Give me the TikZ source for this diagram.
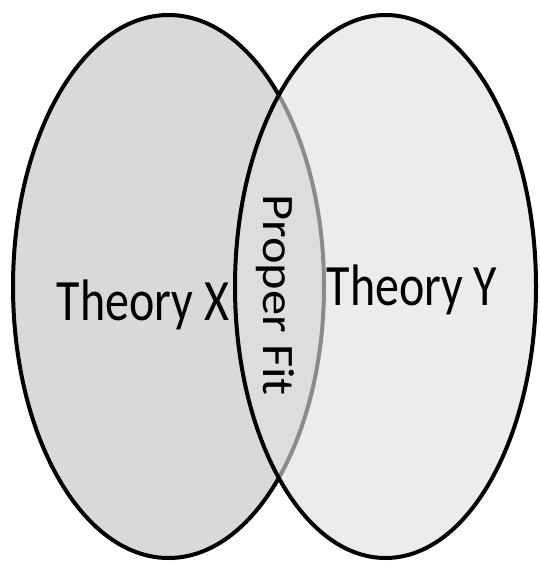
\documentclass[tikz,border=0pt]{standalone}
\usepackage{fontspec}
\setmainfont{Carlito}
\usepackage{tikz}
\usetikzlibrary{shapes.geometric}
\definecolor{setleft}{HTML}{D9D9D9}
\definecolor{setright}{HTML}{E1E1E1}

\begin{document}
\begin{tikzpicture}[
    x=1pt, y=-1pt,
    set/.style={ellipse, draw=black, line width=4pt, inner sep=0pt, outer sep=0pt},
    label/.style={inner sep=0pt, font=\fontsize{48}{48}\selectfont}
  ]
    \useasboundingbox (0,0) rectangle (540,562);
    % the two sets
    \node[set, fill=setleft, minimum width=311pt, minimum height=543pt] (thx) at (168.5,286.5) {};
    \node[set, fill=setright, fill opacity=0.62, minimum width=301pt, minimum height=543pt] (thy) at (385.5,286.5) {};
    % labels
    \node[label, anchor=base] (lx) at (143,320) {\scalebox{1}[1.22]{Theory X}};
    \node[label, anchor=base] (ly) at (412,305) {\scalebox{1}[1.22]{Theory Y}};
    \node[label, anchor=base, rotate=-90, font=\fontsize{45}{45}\selectfont] (fit) at (263,295) {\scalebox{1.12}[1]{Proper Fit}};
  \end{tikzpicture}
\end{document}
